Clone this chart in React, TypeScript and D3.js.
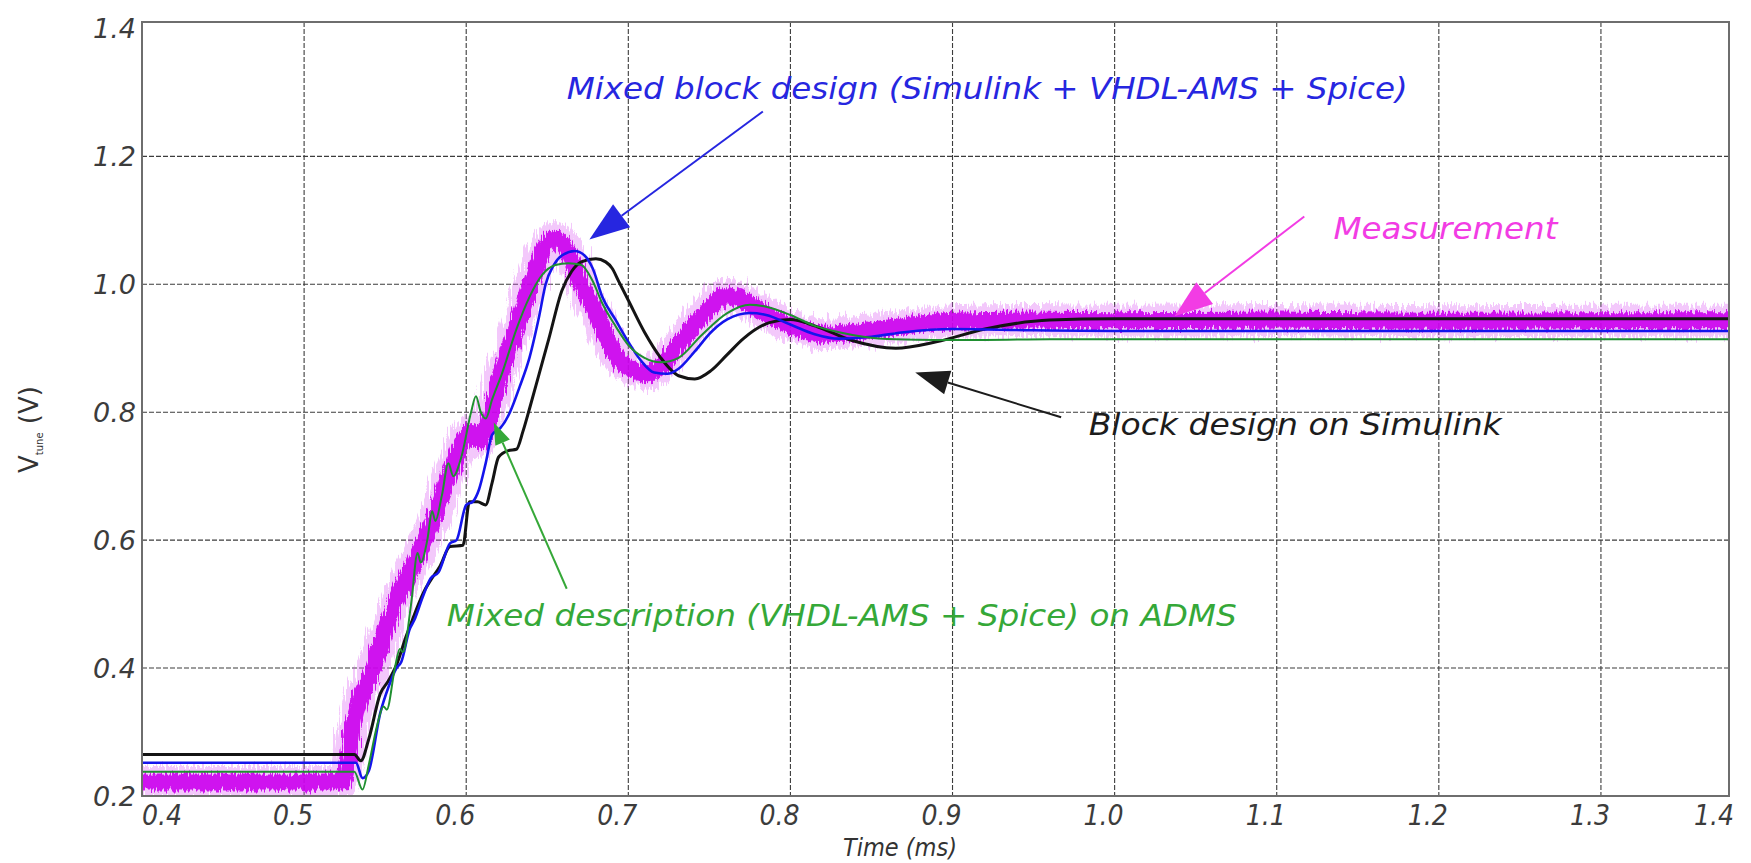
import React from "react";
import * as d3 from "d3";

// measurement (noisy band)
const tMeas = [0.4, 0.45, 0.5, 0.524, 0.527, 0.531, 0.54, 0.547, 0.557, 0.567, 0.578, 0.588, 0.597, 0.603, 0.608, 0.613, 0.619, 0.624, 0.63, 0.635, 0.641, 0.647, 0.655, 0.663, 0.671, 0.68, 0.692, 0.704, 0.712, 0.72, 0.731, 0.742, 0.751, 0.76, 0.771, 0.782, 0.792, 0.805, 0.82, 0.84, 0.87, 0.9, 0.95, 1.0, 1.1, 1.2, 1.3, 1.379];
const vMeas = [0.222, 0.222, 0.222, 0.222, 0.25, 0.32, 0.38, 0.435, 0.505, 0.56, 0.62, 0.69, 0.75, 0.77, 0.755, 0.78, 0.84, 0.88, 0.925, 0.96, 1.01, 1.05, 1.072, 1.05, 1.0, 0.955, 0.89, 0.865, 0.86, 0.872, 0.905, 0.94, 0.965, 0.982, 0.975, 0.958, 0.945, 0.93, 0.922, 0.925, 0.935, 0.942, 0.944, 0.943, 0.944, 0.942, 0.943, 0.943];

// mixed description (VHDL-AMS + Spice) on ADMS
const tGreen = [0.4, 0.5, 0.531, 0.536, 0.54, 0.545, 0.549, 0.551, 0.556, 0.559, 0.561, 0.566, 0.57, 0.572, 0.576, 0.579, 0.581, 0.585, 0.589, 0.592, 0.597, 0.603, 0.606, 0.609, 0.612, 0.616, 0.622, 0.631, 0.639, 0.647, 0.655, 0.663, 0.671, 0.678, 0.684, 0.692, 0.7, 0.71, 0.72, 0.731, 0.745, 0.761, 0.775, 0.785, 0.8, 0.815, 0.83, 0.845, 0.865, 0.89, 0.92, 0.96, 1.0, 1.2, 1.379];
const vGreen = [0.238, 0.238, 0.238, 0.21, 0.25, 0.31, 0.34, 0.335, 0.4, 0.43, 0.425, 0.5, 0.58, 0.565, 0.6, 0.645, 0.63, 0.67, 0.72, 0.7, 0.73, 0.8, 0.825, 0.8, 0.79, 0.82, 0.86, 0.93, 0.98, 1.015, 1.03, 1.033, 1.03, 1.005, 0.97, 0.935, 0.905, 0.885, 0.878, 0.885, 0.92, 0.955, 0.968, 0.965, 0.952, 0.935, 0.925, 0.918, 0.914, 0.913, 0.913, 0.914, 0.914, 0.914, 0.914];

// mixed block design (Simulink + VHDL-AMS + Spice)
const tBlue = [0.4, 0.5, 0.532, 0.536, 0.54, 0.547, 0.552, 0.557, 0.56, 0.565, 0.568, 0.573, 0.578, 0.583, 0.59, 0.594, 0.6, 0.604, 0.608, 0.612, 0.616, 0.621, 0.627, 0.633, 0.639, 0.645, 0.649, 0.654, 0.659, 0.667, 0.673, 0.678, 0.684, 0.692, 0.7, 0.708, 0.716, 0.724, 0.731, 0.741, 0.751, 0.761, 0.775, 0.785, 0.8, 0.815, 0.83, 0.85, 0.87, 0.9, 0.95, 1.0, 1.379];
const vBlue = [0.252, 0.252, 0.252, 0.228, 0.24, 0.33, 0.37, 0.4, 0.41, 0.46, 0.475, 0.51, 0.54, 0.55, 0.595, 0.6, 0.655, 0.66, 0.68, 0.72, 0.765, 0.775, 0.8, 0.84, 0.885, 0.95, 1.0, 1.03, 1.045, 1.052, 1.045, 1.025, 0.98, 0.945, 0.91, 0.88, 0.862, 0.86, 0.868, 0.895, 0.925, 0.945, 0.955, 0.952, 0.937, 0.922, 0.915, 0.918, 0.925, 0.93, 0.928, 0.927, 0.927];

// block design on Simulink
const tBlack = [0.4, 0.5, 0.531, 0.535, 0.54, 0.547, 0.552, 0.557, 0.563, 0.566, 0.569, 0.574, 0.578, 0.584, 0.59, 0.598, 0.602, 0.607, 0.612, 0.616, 0.62, 0.626, 0.631, 0.635, 0.639, 0.645, 0.651, 0.659, 0.665, 0.671, 0.68, 0.686, 0.69, 0.694, 0.7, 0.71, 0.72, 0.731, 0.741, 0.751, 0.761, 0.771, 0.787, 0.8, 0.815, 0.838, 0.865, 0.89, 0.92, 0.96, 1.0, 1.379];
const vBlack = [0.265, 0.265, 0.265, 0.255, 0.29, 0.36, 0.38, 0.405, 0.45, 0.47, 0.49, 0.52, 0.537, 0.56, 0.59, 0.592, 0.66, 0.66, 0.655, 0.69, 0.73, 0.74, 0.742, 0.77, 0.805, 0.86, 0.915, 0.99, 1.02, 1.035, 1.04, 1.035, 1.025, 1.005, 0.975, 0.925, 0.885, 0.857, 0.852, 0.865, 0.89, 0.915, 0.94, 0.945, 0.935, 0.912, 0.9, 0.91, 0.93, 0.944, 0.946, 0.946];

const xTicks = [0.4, 0.5, 0.6, 0.7, 0.8, 0.9, 1.0, 1.1, 1.2, 1.3, 1.4];
const xTickLabels = ["0.4", "0.5", "0.6", "0.7", "0.8", "0.9", "1.0", "1.1", "1.2", "1.3", "1.4"];
const yTicks = [0.2, 0.4, 0.6, 0.8, 1.0, 1.2, 1.4];
const yTickLabels = ["0.2", "0.4", "0.6", "0.8", "1.0", "1.2", "1.4"];

// annotations: text, colour, arrow from -> to in data units
const notes = [
  { text: "Mixed block design (Simulink + VHDL-AMS + Spice)", color: "#2626e0", t: 0.662, v: 1.29, len: 841, from: [0.783, 1.27], to: [0.676, 1.07], head: 40 },
  { text: "Measurement", color: "#f23ce4", t: 1.135, v: 1.07, len: 224, from: [1.117, 1.106], to: [1.037, 0.95], head: 38 },
  { text: "Block design on Simulink", color: "#1c1c1c", t: 0.984, v: 0.765, len: 413, from: [0.967, 0.792], to: [0.877, 0.862], head: 34 },
  { text: "Mixed description (VHDL-AMS + Spice) on ADMS", color: "#35a838", t: 0.588, v: 0.466, len: 790, from: [0.662, 0.524], to: [0.617, 0.784], head: 22 },
];

const W = 1751;
const H = 863;

const App = () => {
  const x = d3.scaleLinear().domain([0.4, 1.379]).range([142, 1729]);
  const y = d3.scaleLinear().domain([0.2, 1.41]).range([796, 22]);

  const line = d3
    .line<[number, number]>()
    .x((d) => x(d[0]))
    .y((d) => y(d[1]))
    .curve(d3.curveMonotoneX);

  const zip = (ts: number[], vs: number[]) => ts.map((t, i) => [t, vs[i]] as [number, number]);

  const [x0, x1] = x.range();
  const [yb, yt] = y.range();

  const labelFont = "'DejaVu Sans', Verdana, sans-serif";
  const narrowFont = "'DejaVu Sans Condensed', 'Liberation Sans Narrow', sans-serif";

  const arrow = (n: any, i: number) => {
    const ax = x(n.from[0]), ay = y(n.from[1]);
    const bx = x(n.to[0]), by = y(n.to[1]);
    const ang = Math.atan2(by - ay, bx - ax);
    const hw = n.head * 0.36;
    const cx = bx - n.head * Math.cos(ang), cy = by - n.head * Math.sin(ang);
    const p1 = [cx + hw * Math.sin(ang), cy - hw * Math.cos(ang)];
    const p2 = [cx - hw * Math.sin(ang), cy + hw * Math.cos(ang)];
    return (
      <g key={"a" + i}>
        <line x1={ax} y1={ay} x2={cx} y2={cy} stroke={n.color} strokeWidth={2} />
        <polygon points={`${bx},${by} ${p1[0]},${p1[1]} ${p2[0]},${p2[1]}`} fill={n.color} />
      </g>
    );
  };

  return (
    <svg width={W} height={H} style={{ position: "absolute", left: 0, top: 0, background: "#fff" }}>
      <defs>
        <clipPath id="plot">
          <rect x={x0} y={yt} width={x1 - x0} height={yb - yt} />
        </clipPath>
        <filter id="fuzz" filterUnits="userSpaceOnUse" x={0} y={0} width={W} height={H}>
          <feTurbulence type="fractalNoise" baseFrequency="0.45 0.03" numOctaves={2} seed={4} result="n" />
          <feDisplacementMap in="SourceGraphic" in2="n" scale={20} xChannelSelector="R" yChannelSelector="G" />
        </filter>
        <filter id="fuzz2" filterUnits="userSpaceOnUse" x={0} y={0} width={W} height={H}>
          <feTurbulence type="fractalNoise" baseFrequency="0.6 0.05" numOctaves={2} seed={9} result="n" />
          <feDisplacementMap in="SourceGraphic" in2="n" scale={12} xChannelSelector="R" yChannelSelector="G" />
        </filter>
      </defs>

      {/* grid */}
      <g stroke="#3c3c3c" strokeWidth={1.1} strokeDasharray="5 2">
        {xTicks.filter((t) => x(t) > x0 + 2 && x(t) < x1 - 2).map((t) => (
          <line key={"gx" + t} x1={x(t)} x2={x(t)} y1={yt} y2={yb} />
        ))}
        {yTicks.filter((v) => y(v) < yb - 2 && y(v) > yt + 8).map((v) => (
          <line key={"gy" + v} x1={x0} x2={x1} y1={y(v)} y2={y(v)} />
        ))}
      </g>

      <g clipPath="url(#plot)" fill="none" strokeLinejoin="round">
        <path d={line(zip(tMeas, vMeas)) || ""} stroke="#d84cf2" strokeWidth={32} opacity={0.3} filter="url(#fuzz)" />
        <path d={line(zip(tMeas, vMeas)) || ""} stroke="#cc00ee" strokeWidth={17} opacity={0.9} filter="url(#fuzz2)" />
        <path d={line(zip(tBlack, vBlack)) || ""} stroke="#141414" strokeWidth={3} />
        <path d={line(zip(tBlue, vBlue)) || ""} stroke="#1414ec" strokeWidth={2.6} />
        <path d={line(zip(tGreen, vGreen)) || ""} stroke="#1f8f30" strokeWidth={2} />
      </g>

      {/* frame */}
      <rect x={x0} y={yt} width={x1 - x0} height={yb - yt} fill="none" stroke="#6e6e6e" strokeWidth={2} />

      {/* y tick labels */}
      <g fontFamily={labelFont} fontStyle="italic" fontSize={27} fill="#3c3c3c" textAnchor="end">
        {yTicks.map((v, i) => (
          <text key={"yl" + v} x={x0 - 6} y={Math.max(y(v), yt + 2)} dy="0.36em">
            {yTickLabels[i]}
          </text>
        ))}
      </g>

      {/* x tick labels */}
      <g fontFamily={narrowFont} fontStyle="italic" fontSize={28} fill="#3c3c3c" textAnchor="middle">
        {xTicks.map((t, i) => (
          <text key={"xl" + t} x={Math.min(Math.max(x(t) - 11, x0 + 20), x1 - 15)} y={yb + 29}>
            {xTickLabels[i]}
          </text>
        ))}
      </g>

      <text x={900} y={856} fontFamily={narrowFont} fontStyle="italic" fontSize={25} fill="#333" textAnchor="middle">
        Time (ms)
      </text>

      <text transform={`translate(38, 473) rotate(-90)`} fontFamily={labelFont} fontSize={26} fill="#333">
        V<tspan fontSize={10} dy={5}>tune</tspan>
        <tspan dy={-5} fontSize={26}> (V)</tspan>
      </text>

      {/* annotations */}
      {notes.map((n, i) => arrow(n, i))}
      <g fontFamily={labelFont} fontStyle="italic" fontSize={30}>
        {notes.map((n, i) => (
          <text key={"n" + i} x={x(n.t)} y={y(n.v)} fill={n.color} textLength={n.len} lengthAdjust="spacingAndGlyphs">
            {n.text}
          </text>
        ))}
      </g>
    </svg>
  );
};

export default App;
